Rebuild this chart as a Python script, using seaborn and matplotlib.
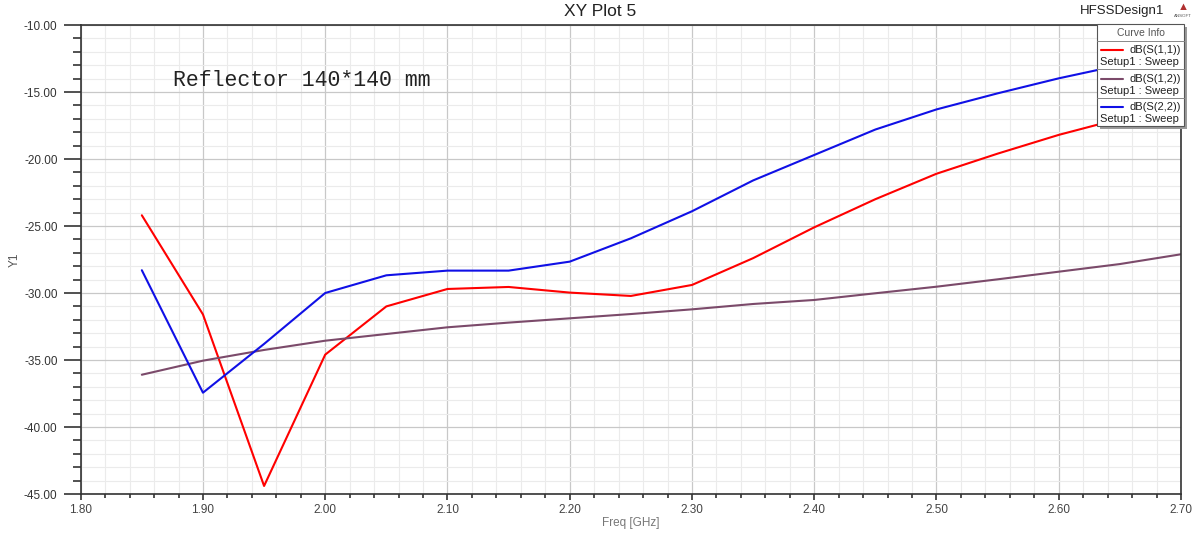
import numpy as np
import pandas as pd
import matplotlib
matplotlib.use("Agg")
import matplotlib.pyplot as plt
from matplotlib.ticker import MultipleLocator, FormatStrFormatter
from matplotlib.lines import Line2D
from matplotlib.patches import Rectangle
import seaborn as sns

freq = [1.85, 1.90, 1.95, 2.00, 2.05, 2.10, 2.15, 2.20, 2.25, 2.30, 2.35,
        2.40, 2.45, 2.50, 2.55, 2.60, 2.65, 2.70]
s11 = [-24.2, -31.6, -44.4, -34.6, -31.0, -29.7, -29.55, -29.97, -30.22, -29.4, -27.4,
       -25.1, -23.0, -21.1, -19.6, -18.2, -17.0, -16.0]
s12 = [-36.1, -35.05, -34.25, -33.56, -33.06, -32.56, -32.21, -31.89, -31.57, -31.22, -30.82,
       -30.52, -30.02, -29.53, -28.98, -28.41, -27.84, -27.11]
s22 = [-28.3, -37.44, -33.8, -30.0, -28.68, -28.33, -28.33, -27.66, -25.92, -23.9, -21.6,
       -19.7, -17.8, -16.3, -15.1, -13.98, -13.0, -12.2]
curves = ["dB(S(1,1))", "dB(S(1,2))", "dB(S(2,2))"]
setup_label = "Setup1 : Sweep"
colors = ["#ff0000", "#7b4a6a", "#1010e6"]
xticks = [1.80, 1.90, 2.00, 2.10, 2.20, 2.30, 2.40, 2.50, 2.60, 2.70]
yticks = [-45, -40, -35, -30, -25, -20, -15, -10]

df = pd.DataFrame({
    "Freq": freq * 3,
    "Y1": s11 + s12 + s22,
    "Curve": [curves[0]] * len(freq) + [curves[1]] * len(freq) + [curves[2]] * len(freq),
})

sns.set_style("white")
plt.rcParams["font.family"] = ["Liberation Sans", "DejaVu Sans"]

W, H = 1200, 535
fig = plt.figure(figsize=(12, 5.35), dpi=100)
ax = fig.add_axes([80.7 / W, 1 - 494 / H, (1181 - 80.7) / W, (494 - 25) / H])

sns.lineplot(data=df, x="Freq", y="Y1", hue="Curve", palette=dict(zip(curves, colors)),
             linewidth=1.5, ax=ax, legend=False, sort=False)

ax.set_xlim(1.80, 2.70)
ax.set_ylim(-45, -10)
ax.set_xticks(xticks)
ax.set_yticks(yticks)
ax.xaxis.set_major_formatter(FormatStrFormatter("%.2f"))
ax.yaxis.set_major_formatter(FormatStrFormatter("%.2f"))
ax.xaxis.set_minor_locator(MultipleLocator(0.02))
ax.yaxis.set_minor_locator(MultipleLocator(1))
ax.grid(which="major", color="#c8c8c8", linewidth=0.9)
ax.grid(which="minor", color="#ebebeb", linewidth=0.8)
ax.set_axisbelow(True)
for sp in ax.spines.values():
    sp.set_color("#333333")
    sp.set_linewidth(1.2)
    sp.set_visible(True)
ax.tick_params(axis="both", which="both", left=True, bottom=True, top=False, right=False)
ax.tick_params(axis="y", which="major", direction="out", length=12.2, width=1.2,
               color="#333333", labelsize=8.5, labelcolor="#333333", pad=4.5)
ax.tick_params(axis="y", which="minor", direction="out", length=5.8, width=1.2, color="#333333")
ax.tick_params(axis="x", which="major", direction="out", length=4, width=1.2,
               color="#333333", labelsize=8.5, labelcolor="#444444", pad=3)
ax.tick_params(axis="x", which="minor", direction="out", length=2.8, width=1.2, color="#333333")
ax.set_xlabel("Freq [GHz]", fontsize=8.5, color="#777777", labelpad=1)
ax.set_ylabel("Y1", fontsize=8.5, color="#555555", labelpad=2)

fig.text(0.5, 1 - 11 / H, "XY Plot 5", ha="center", va="center", fontsize=12.5, color="#222222")
fig.text(1080 / W, 1 - 11 / H, "HFSSDesign1", ha="left", va="center", fontsize=9.5, color="#222222")
fig.text(1183 / W, 1 - 7 / H, "\u25B2", ha="center", va="center", fontsize=8, color="#b03030")
fig.text(1183 / W, 1 - 16 / H, "ANSOFT", ha="center", va="center", fontsize=3.2, color="#555555")

ax.text(0.0835, 0.881, "Reflector 140*140 mm", transform=ax.transAxes,
        family="Liberation Mono", fontsize=15.5, color="#222222", ha="left", va="center")

# legend ("Curve Info") drawn in figure pixel coordinates
def fx(px):
    return px / W

def fy(py):
    return 1 - py / H

tf = fig.transFigure
x0, x1, y0, y1 = 1097, 1184, 24, 126
fig.patches.append(Rectangle((fx(x0 + 3), fy(y1 + 3)), fx(x1 - x0), (y1 - y0) / H,
                             transform=tf, facecolor="#9a9a9a", edgecolor="none", zorder=9))
fig.patches.append(Rectangle((fx(x0), fy(y1)), fx(x1 - x0), (y1 - y0) / H,
                             transform=tf, facecolor="white", edgecolor="#555555",
                             linewidth=0.8, zorder=10))
fig.text(fx((x0 + x1) / 2), fy(33), "Curve Info", ha="center", va="center",
         fontsize=7.5, color="#555555", zorder=11)
for sep in [41, 69, 98]:
    fig.lines.append(Line2D([fx(x0), fx(x1)], [fy(sep), fy(sep)], transform=tf,
                            color="#888888", linewidth=0.7, zorder=11))
for i, (c, name) in enumerate(zip(colors, curves)):
    yl = 50 + i * 28.5
    fig.lines.append(Line2D([fx(1101), fx(1123)], [fy(yl), fy(yl)], transform=tf,
                            color=c, linewidth=1.5, zorder=11))
    fig.text(fx(1181), fy(yl), name, ha="right", va="center", fontsize=8,
             color="#222222", zorder=11)
    fig.text(fx(1100), fy(yl + 12), setup_label, ha="left", va="center", fontsize=8,
             color="#222222", zorder=11)

fig.savefig("out.png", dpi=100, facecolor="white")
